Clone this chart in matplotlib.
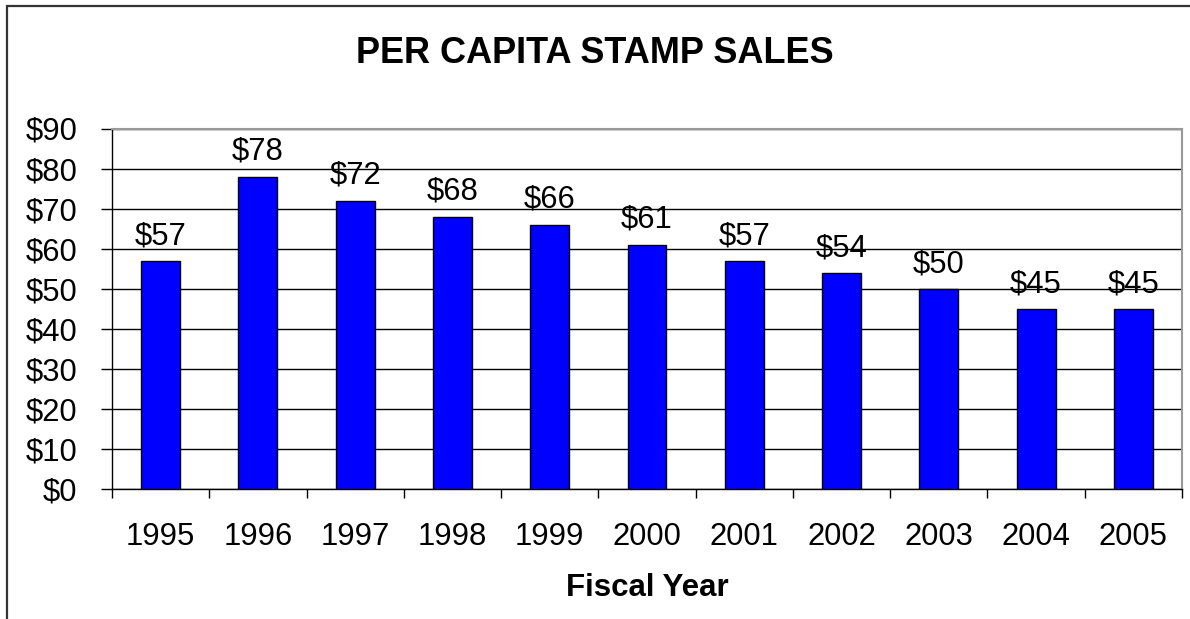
import matplotlib
matplotlib.use("Agg")
import matplotlib.pyplot as plt
from matplotlib.patches import Rectangle
from matplotlib.ticker import FixedLocator

years = ["1995", "1996", "1997", "1998", "1999", "2000", "2001", "2002", "2003", "2004", "2005"]
sales = [57, 78, 72, 68, 66, 61, 57, 54, 50, 45, 45]
yticks = [0, 10, 20, 30, 40, 50, 60, 70, 80, 90]
ytick_labels = ["$" + str(v) for v in yticks]
title = "PER CAPITA STAMP SALES"
xlabel = "Fiscal Year"

plt.rcParams['font.family'] = ['Liberation Sans', 'DejaVu Sans']

W, H = 1190, 619
fig = plt.figure(figsize=(W / 100, H / 100), dpi=100)
fig.patch.set_facecolor("white")

# outer frame (extends past right and bottom edges)
fig.patches.append(Rectangle((7 / W, -0.1), 1.2, 1 - 6 / H + 0.1,
                             transform=fig.transFigure, fill=False,
                             edgecolor="#333333", linewidth=1.6))

ax = fig.add_axes([112 / W, 1 - 489 / H, (1182 - 112) / W, (489 - 128.5) / H])
x = list(range(len(years)))
bars = ax.bar(x, sales, width=0.4, color="#0000FF", edgecolor="black", linewidth=1.0, zorder=3)

FS = 22.3
for xi, v in zip(x, sales):
    ax.annotate("$" + str(v), (xi, v), xytext=(0, 12), textcoords="offset points",
                ha="center", va="baseline", fontsize=FS, color="black", zorder=4)

ax.set_xlim(-0.5, len(years) - 0.5)
ax.set_ylim(0, 90)
ax.set_yticks(yticks)
ax.set_yticklabels(ytick_labels, fontsize=FS)
ax.set_xticks(x)
ax.set_xticklabels(years, fontsize=FS)
ax.xaxis.set_minor_locator(FixedLocator([i - 0.5 for i in range(len(years) + 1)]))
ax.tick_params(axis="x", which="major", length=0, pad=24)
ax.tick_params(axis="x", which="minor", length=6.5, width=1, color="black")
ax.tick_params(axis="y", which="major", length=8, width=1, pad=17, color="black")

ax.yaxis.grid(True, color="black", linewidth=1.0, zorder=0)
ax.set_axisbelow(True)
for s in ["top", "right"]:
    ax.spines[s].set_color("#999999")
    ax.spines[s].set_linewidth(1.5)
for s in ["left", "bottom"]:
    ax.spines[s].set_color("black")
    ax.spines[s].set_linewidth(1.0)

ax.set_xlabel(xlabel, fontsize=22.5, fontweight="bold", labelpad=15)
fig.text(0.5, 1 - 63 / H, title, ha="center", va="baseline", fontsize=26, fontweight="bold")

fig.savefig("out.png", dpi=100, facecolor="white")
